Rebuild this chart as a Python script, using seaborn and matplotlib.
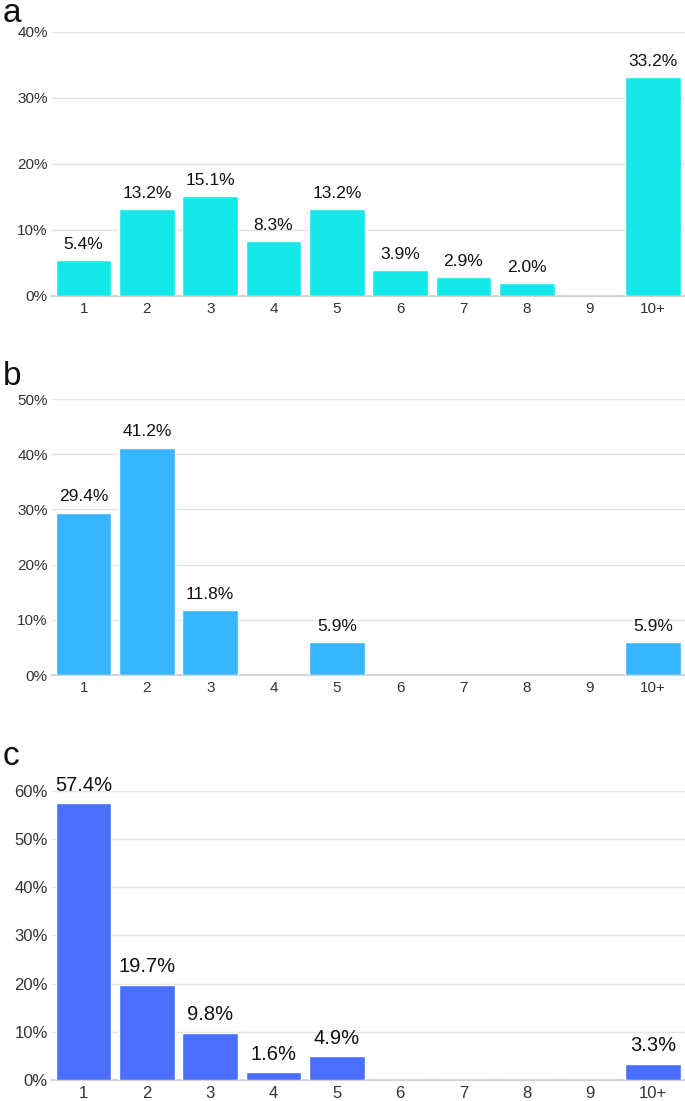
import matplotlib
matplotlib.use("Agg")
import matplotlib.pyplot as plt
import seaborn as sns
import pandas as pd

categories = ["1", "2", "3", "4", "5", "6", "7", "8", "9", "10+"]
values_a = [5.4, 13.2, 15.1, 8.3, 13.2, 3.9, 2.9, 2.0, 0.0, 33.2]
values_b = [29.4, 41.2, 11.8, 0.0, 5.9, 0.0, 0.0, 0.0, 0.0, 5.9]
values_c = [57.4, 19.7, 9.8, 1.6, 4.9, 0.0, 0.0, 0.0, 0.0, 3.3]

# letter, values, colour, y max, [axes bottom, height], letter baseline, tick size, label size
panels = [
    ("a", values_a, "#14E8E9", 40, [0.7312, 0.2398], 0.980, 11.0, 12.5),
    ("b", values_b, "#38B6FF", 50, [0.3869, 0.2507], 0.6503, 11.0, 12.5),
    ("c", values_c, "#4A6FFF", 60, [0.0191, 0.2625], 0.3052, 12.0, 14.5),
]

sns.set_theme(style="white")
plt.rcParams["font.family"] = ["Liberation Sans", "DejaVu Sans"]

fig = plt.figure(figsize=(6.85, 11.01), dpi=100)
left, width = 0.0759, 0.924

for letter, vals, color, ymax, (bottom, height), ly, tsize, vsize in panels:
    ax = fig.add_axes([left, bottom, width, height])
    df = pd.DataFrame({"cat": categories, "pct": vals})
    sns.barplot(data=df, x="cat", y="pct", color=color, saturation=1,
                width=0.88, ax=ax, zorder=3)
    ax.set_ylim(0, ymax)
    ax.set_xlim(-0.5, len(categories) - 0.5)
    ticks = list(range(0, ymax + 1, 10))
    ax.set_yticks(ticks)
    ax.set_yticklabels([f"{t}%" for t in ticks], fontsize=tsize, color="#333333")
    ax.tick_params(axis="x", labelsize=tsize, colors="#333333", length=0, pad=4)
    ax.tick_params(axis="y", length=0, pad=3)
    ax.grid(axis="y", color="#e4e4e4", linewidth=1, zorder=0)
    for s in ["top", "right", "left"]:
        ax.spines[s].set_visible(False)
    ax.spines["bottom"].set_color("#cccccc")
    ax.set_xlabel("")
    ax.set_ylabel("")
    for i, v in enumerate(vals):
        if v > 0:
            ax.text(i, v + ymax * 0.03, f"{v:.1f}%", ha="center", va="bottom",
                    fontsize=vsize, color="#111111", clip_on=False)
    fig.text(0.004, ly, letter, fontsize=24, color="#111111",
             ha="left", va="baseline")

fig.savefig("out.png", dpi=100, facecolor="white")
